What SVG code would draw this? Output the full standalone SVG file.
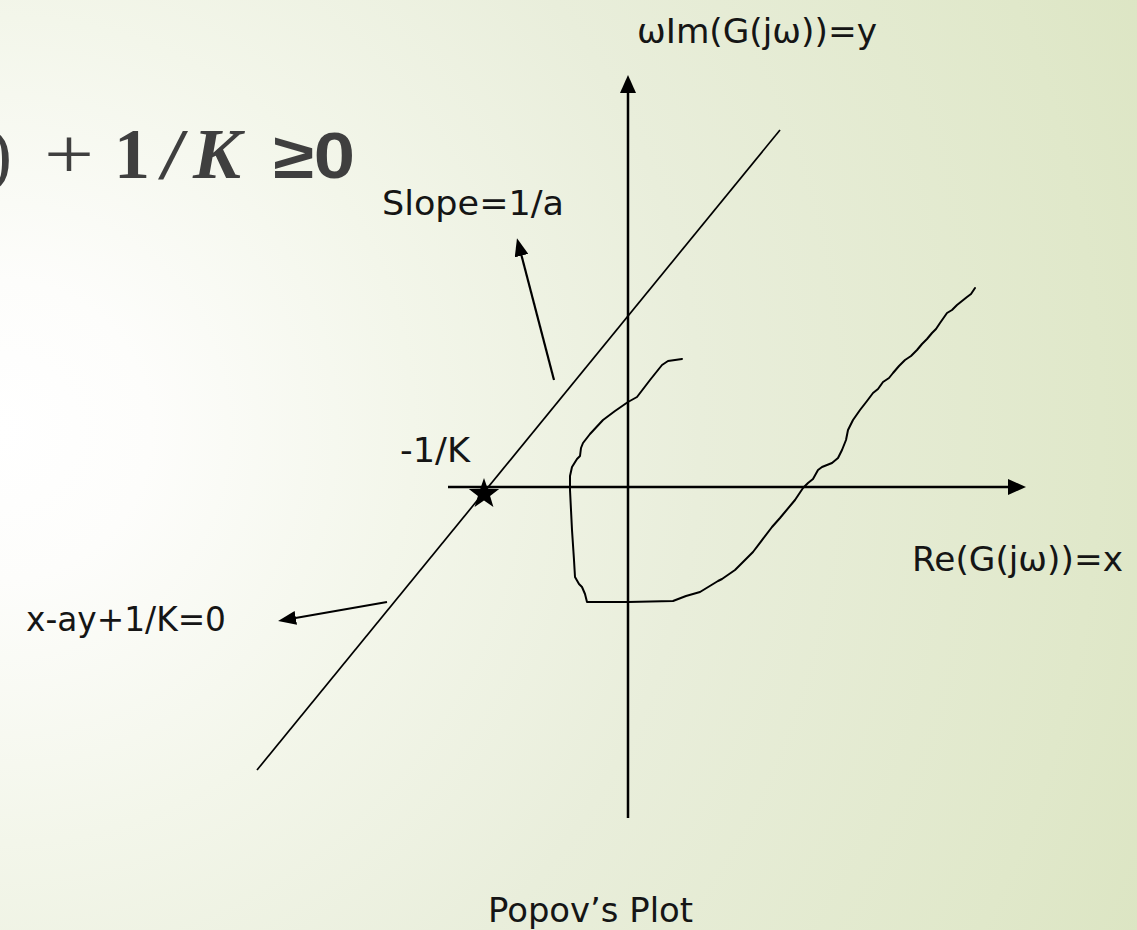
<svg xmlns="http://www.w3.org/2000/svg" width="1137" height="930" viewBox="0 0 1137 930">
  <defs>
    <radialGradient id="bg" gradientUnits="userSpaceOnUse" cx="0" cy="430" r="1250">
      <stop offset="0" stop-color="#ffffff"/>
      <stop offset="0.12" stop-color="#fdfdfb"/>
      <stop offset="0.33" stop-color="#f3f6ea"/>
      <stop offset="0.56" stop-color="#e9eedb"/>
      <stop offset="0.88" stop-color="#e0e8ca"/>
      <stop offset="1" stop-color="#dce5c3"/>
    </radialGradient>
    <marker id="axHead" markerUnits="userSpaceOnUse" markerWidth="18" markerHeight="16" viewBox="0 0 18 16" refX="12" refY="8" orient="auto">
      <path d="M0,0 L18,8 L0,16 z" fill="#000"/>
    </marker>
    <marker id="lblHead" markerUnits="userSpaceOnUse" markerWidth="18" markerHeight="14" viewBox="0 0 18 14" refX="12" refY="7" orient="auto">
      <path d="M0,0 L18,7 L0,14 z" fill="#000"/>
    </marker>
  </defs>
  <style>
    .lbl { font-family: "DejaVu Sans", "Liberation Sans", sans-serif; font-size: 33px; fill: #151515; }
    .ax { stroke: #000; stroke-width: 2.5; fill: none; }
    .thin { stroke: #000; stroke-width: 1.7; fill: none; }
    .curve { stroke: #000; stroke-width: 2; fill: none; stroke-linejoin: round; stroke-linecap: round; }
    .ptr { stroke: #000; stroke-width: 2.2; fill: none; }
    .fm { font-family: "Liberation Serif", "DejaVu Serif", serif; font-size: 72px; fill: #3f3f3f; }
  </style>
  <rect x="0" y="0" width="1137" height="930" fill="url(#bg)"/>

  <g id="formula">
    <text class="fm" x="-12" y="178">)</text>
    <text class="fm" x="44" y="178" textLength="50" lengthAdjust="spacingAndGlyphs">+</text>
    <text class="fm" x="114" y="178" font-weight="bold">1</text>
    <text class="fm" x="158" y="178" textLength="30" lengthAdjust="spacingAndGlyphs">/</text>
    <text class="fm" x="193" y="178" font-weight="bold" font-style="italic" textLength="48" lengthAdjust="spacingAndGlyphs">K</text>
    <text x="273" y="178" font-family="Liberation Sans, Arial, sans-serif" font-weight="bold" font-size="64" fill="#3f3f3f" textLength="82" lengthAdjust="spacingAndGlyphs">≥0</text>
  </g>

  <g id="connectors">
    <line id="y-axis" class="ax" x1="628" y1="818" x2="628" y2="81" marker-end="url(#axHead)"/>
    <line id="x-axis" class="ax" x1="448" y1="487" x2="1020" y2="487" marker-end="url(#axHead)"/>
    <line id="popov-line" class="thin" x1="257" y1="770" x2="780" y2="130"/>
    <line id="slope-pointer" class="ptr" x1="554" y1="380" x2="518.5" y2="244" marker-end="url(#lblHead)"/>
    <line id="eq-pointer" class="ptr" x1="387" y1="602" x2="284" y2="620" marker-end="url(#lblHead)"/>
  </g>

  <g id="nyquist-curve">
    <path class="curve" d="M682,359 L668,361 L662,365 L650,380 L637,397 L628,402 L615,411 L603,420 L590,434 L583,443 L581,448 L580,456 L577,459 L572,467 L570,476 L570,490 L572,530 L574,560 L575,577 L579,584 L582,587 L585,594 L587,602 L628,602 L673,601 L686,596 L700,592 L718,581 L722,579 L735,570 L753,552 L772,527 L780,518 L795,500 L803,488 L808,483 L813,479 L818,470 L822,467 L832,463 L838,458 L842,450 L846,440 L848,430 L853,420 L860,410 L867,401 L873,393 L878,389 L883,382 L889,378 L893,373 L899,366 L905,360 L911,356 L917,350 L922,344 L927,339 L932,333 L936,329 L940,323 L947,313 L952,310 L957,305 L962,301 L967,297 L971,294 L975,288"/>
  </g>

  <g id="critical-point">
    <polygon points="484,478 487.7,488.8 499.2,489.1 490.1,496.1 493.4,507.1 484,500.6 474.6,507.1 477.9,496.1 468.8,489.1 480.3,488.8" fill="#000"/>
  </g>

  <g id="label-y-axis"><text class="lbl" x="637" y="43" textLength="240" lengthAdjust="spacingAndGlyphs">ωIm(G(jω))=y</text></g>
  <g id="label-x-axis"><text class="lbl" x="912" y="571" textLength="211" lengthAdjust="spacingAndGlyphs">Re(G(jω))=x</text></g>
  <g id="label-slope"><text class="lbl" x="382" y="215" textLength="182" lengthAdjust="spacingAndGlyphs">Slope=1/a</text></g>
  <g id="label-minus-1-over-k"><text class="lbl" x="400" y="462" textLength="70" lengthAdjust="spacingAndGlyphs">-1/K</text></g>
  <g id="label-line-eq"><text class="lbl" x="26" y="631" textLength="200" lengthAdjust="spacingAndGlyphs">x-ay+1/K=0</text></g>
  <g id="label-title"><text class="lbl" x="488" y="922" textLength="205" lengthAdjust="spacingAndGlyphs">Popov’s Plot</text></g>
</svg>
